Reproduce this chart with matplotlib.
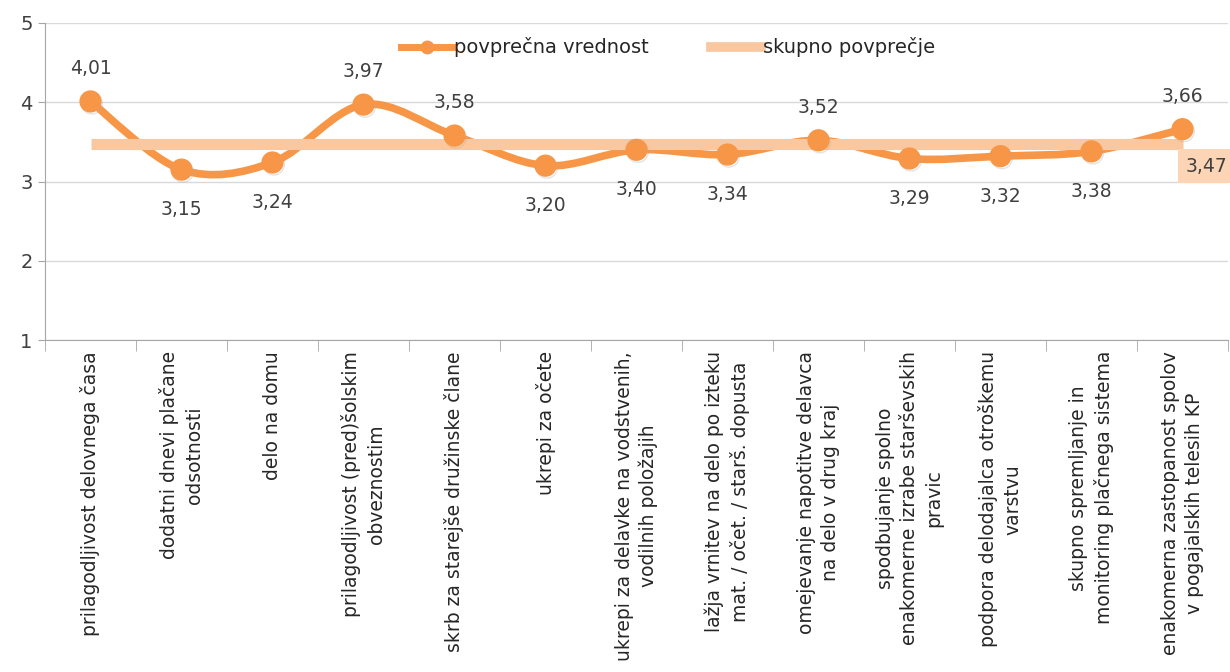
import matplotlib
matplotlib.use("Agg")
import matplotlib.pyplot as plt
import matplotlib.patheffects as pe
from matplotlib.path import Path
from matplotlib.patches import PathPatch
import numpy as np

# DATA
categories = [
    "prilagodljivost delovnega časa",
    "dodatni dnevi plačane\nodsotnosti",
    "delo na domu",
    "prilagodljivost (pred)šolskim\nobveznostim",
    "skrb za starejše družinske člane",
    "ukrepi za očete",
    "ukrepi za delavke na vodstvenih,\nvodilnih položajih",
    "lažja vrnitev na delo po izteku\nmat. / očet. / starš. dopusta",
    "omejevanje napotitve delavca\nna delo v drug kraj",
    "spodbujanje spolno\nenakomerne izrabe starševskih\npravic",
    "podpora delodajalca otroškemu\nvarstvu",
    "skupno spremljanje in\nmonitoring plačnega sistema",
    "enakomerna zastopanost spolov\nv pogajalskih telesih KP",
]
values = [4.01, 3.15, 3.24, 3.97, 3.58, 3.20, 3.40, 3.34, 3.52, 3.29, 3.32, 3.38, 3.66]
overall = 3.47
label_above = [True, False, False, True, True, False, False, False, True, False, False, False, True]

ORANGE = "#F79646"
PEACH = "#FAC8A0"
GRID = "#D9D9D9"

plt.rcParams['font.family'] = ['DejaVu Sans']

fig = plt.figure(figsize=(12.3, 6.72), dpi=100)
ax = fig.add_axes([45/1230, 1 - 340/672, 1183/1230, (340-23)/672])

n = len(values)
x = np.arange(n)

# smoothed line (catmull-rom style bezier like excel)
pts = np.column_stack([x, values])
verts = [pts[0]]
codes = [Path.MOVETO]
for i in range(n - 1):
    p0 = pts[i - 1] if i > 0 else pts[i]
    p1 = pts[i]
    p2 = pts[i + 1]
    p3 = pts[i + 2] if i + 2 < n else pts[i + 1]
    c1 = p1 + (p2 - p0) / 6.0
    c2 = p2 - (p3 - p1) / 6.0
    verts += [c1, c2, p2]
    codes += [Path.CURVE4] * 3
curve = PathPatch(Path(verts, codes), facecolor="none", edgecolor=ORANGE, lw=5.5,
                  capstyle="round", joinstyle="round", zorder=3)
ax.add_patch(curve)

# overall average line
ax.plot([x[0], x[-1]], [overall, overall], color=PEACH, lw=8, solid_capstyle="butt", zorder=4)

# markers
ax.plot(x, values, linestyle="none", marker="o", ms=15, color=ORANGE, mec=ORANGE, zorder=5,
        path_effects=[pe.SimpleLineShadow(offset=(1, -1.5), shadow_color="#B0B0B0", alpha=0.35),
                      pe.Normal()])

# data labels
for xi, v, up in zip(x, values, label_above):
    off = 33 if up else -40
    ax.annotate(("%.2f" % v).replace(".", ","), (xi, v), xytext=(0, off),
                textcoords="offset pixels", ha="center", va="center",
                fontsize=13.5, color="#404040", zorder=6)

# overall label box
ax.annotate(("%.2f" % overall).replace(".", ","), (x[-1], overall), xytext=(24, -22),
            textcoords="offset pixels", ha="center", va="center", fontsize=13.5,
            color="#404040", zorder=6, annotation_clip=False,
            bbox=dict(boxstyle="square,pad=0.4", fc="#FBD5B5", ec="none"))

# legend handles
h1, = ax.plot([], [], color=ORANGE, lw=5, marker="o", ms=9, label="povprečna vrednost")
h2, = ax.plot([], [], color=PEACH, lw=7, label="skupno povprečje")
leg = ax.legend(handles=[h1, h2], loc="upper center", bbox_to_anchor=(0.527, 1.01), ncol=2,
                frameon=False, fontsize=14, handlelength=2.6, handletextpad=0.1,
                columnspacing=3.2)
for t in leg.get_texts():
    t.set_color("#262626")

ax.set_xlim(-0.5, n - 0.5)
ax.set_ylim(1, 5)
ax.set_yticks([1, 2, 3, 4, 5])
ax.set_yticklabels(["1", "2", "3", "4", "5"], fontsize=14, color="#404040")
ax.yaxis.grid(True, color=GRID, lw=1)
ax.set_axisbelow(True)

ax.set_xticks(x)
ax.set_xticklabels(categories, rotation=90, ha="center", va="top", multialignment="center",
                   fontsize=13.5, color="#262626", linespacing=1.35)
ax.tick_params(axis="x", length=0, pad=8)
ax.set_xticks(np.arange(-0.5, n, 1.0), minor=True)
ax.tick_params(axis="x", which="minor", length=8, color="#A6A6A6", direction="out")
ax.tick_params(axis="y", length=5, color="#A6A6A6", direction="out", pad=4)

for s in ["top", "right"]:
    ax.spines[s].set_visible(False)
ax.spines["left"].set_color("#A6A6A6")
ax.spines["bottom"].set_color("#A6A6A6")

fig.savefig("out.png", dpi=100)
